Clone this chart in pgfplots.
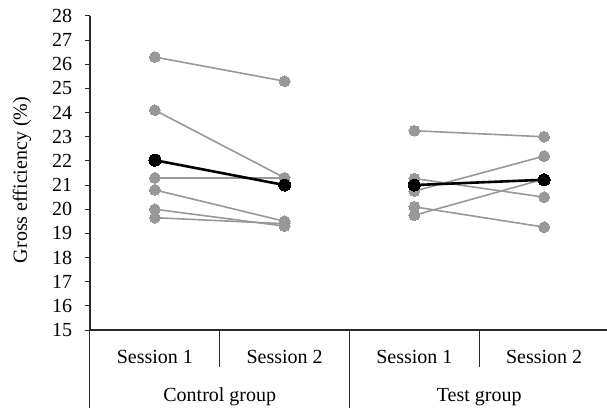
\documentclass[border=0pt]{standalone}
\usepackage{fontspec}
\setmainfont{Liberation Serif}
\usepackage{pgfplots}
\pgfplotsset{compat=1.18}
\definecolor{subj}{RGB}{152,152,152}
\definecolor{axl}{RGB}{40,40,40}
\pgfplotsset{
  subject/.style={color=subj, line width=1.6pt, mark=*, mark size=5.4pt,
    mark options={fill=subj, draw=subj, line width=0pt}},
  meanline/.style={color=black, line width=2.6pt, mark=*, mark size=6pt,
    mark options={fill=black, draw=black, line width=0pt}},
}
\begin{document}
\fontsize{20}{24}\selectfont
\begin{tikzpicture}
\begin{axis}[
    scale only axis,
    width=519pt, height=314pt,
    xmin=-0.5, xmax=3.5,
    ymin=15, ymax=28,
    ytick={15,...,28},
    xtick={0,1,2,3},
    xticklabels={Session 1, Session 2, Session 1, Session 2},
    axis x line=bottom, axis y line=left,
    axis line style={-, axl, line width=1.1pt},
    xtick style={draw=none},
    ytick style={axl, line width=1pt},
    tick align=outside,
    major tick length=5pt,
    /pgf/number format/assume math mode=true,
    yticklabel style={xshift=-6pt},
    xticklabel style={anchor=center, yshift=-22pt},
    ylabel={Gross efficiency (\%)},
    every axis y label/.style={at={(axis description cs:-0.131,0.478)}, rotate=90, anchor=center},
    clip=false,
]
% control group
\addplot[subject] coordinates {(0,26.3) (1,25.3)};
\addplot[subject] coordinates {(0,24.1) (1,21.3)};
\addplot[subject] coordinates {(0,21.3) (1,21.3)};
\addplot[subject] coordinates {(0,20.8) (1,19.5)};
\addplot[subject] coordinates {(0,20.0) (1,19.3)};
\addplot[subject] coordinates {(0,19.65) (1,19.4)};
% test group
\addplot[subject] coordinates {(2,23.25) (3,23.0)};
\addplot[subject] coordinates {(2,21.27) (3,20.5)};
\addplot[subject] coordinates {(2,20.75) (3,22.2)};
\addplot[subject] coordinates {(2,20.1) (3,19.26)};
\addplot[subject] coordinates {(2,19.75) (3,21.25)};
% means
\addplot[meanline] coordinates {(0,22.03) (1,21.0)};
\addplot[meanline] coordinates {(2,21.0) (3,21.22)};

% category separators
\draw[axl, line width=1pt] (axis cs:0.5,15) -- ++(0pt,-37pt);
\draw[axl, line width=1pt] (axis cs:2.5,15) -- ++(0pt,-37pt);
\draw[axl, line width=1pt] (axis cs:-0.5,15) -- ++(0pt,-80pt);
\draw[axl, line width=1pt] (axis cs:1.5,15) -- ++(0pt,-80pt);
\draw[axl, line width=1pt] (axis cs:3.5,15) -- ++(0pt,-80pt);
\node at (axis cs:0.5,15) [yshift=-67pt] {Control group};
\node at (axis cs:2.5,15) [yshift=-67pt] {Test group};
\end{axis}
\pgfresetboundingbox
\path[use as bounding box] (-90pt,-77pt) rectangle (517pt,330pt);
\end{tikzpicture}
\end{document}
